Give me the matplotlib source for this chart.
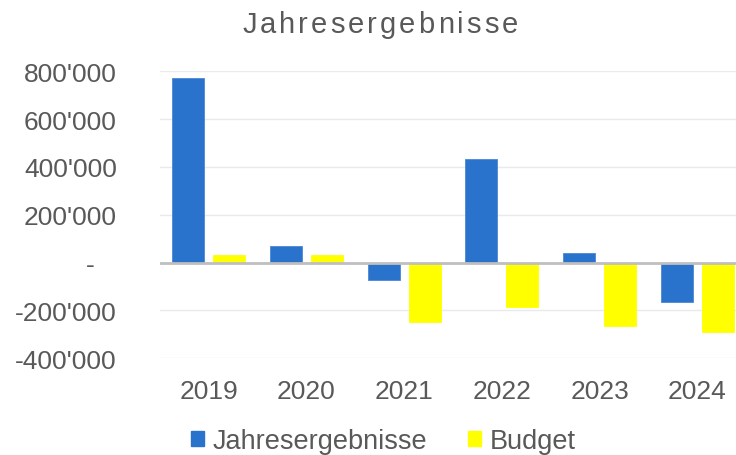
"""Jahresergebnisse vs Budget, 2019-2024 (grouped bars, Excel-style)."""
import numpy as np
import matplotlib
matplotlib.use("Agg")
import matplotlib.pyplot as plt
from matplotlib.patches import Patch
from matplotlib.ticker import FuncFormatter, MultipleLocator

# ---- Data ----
YEARS = ["2019", "2020", "2021", "2022", "2023", "2024"]
RESULTS = [772000, 70000, -74000, 433000, 39000, -163000]
BUDGET = [30000, 30000, -250000, -187000, -266000, -290000]

# ---- Style ----
BLUE = "#2A73CC"
YELLOW = "#FFFF00"
TEXT = "#595959"
GRID = "#EAEAEA"
ZERO = "#BFBFBF"
FONT = "Liberation Sans"
W_PX, H_PX = 736, 456

plt.rcParams["font.family"] = [FONT, "DejaVu Sans"]


def fmt_swiss(v, _pos=None):
    if abs(v) < 1:
        return "-   "
    return f"{int(round(v)):,}".replace(",", "'")


def spaced_title(fig, s, x_center_px, y_baseline, spacing_px, **kw):
    """Draw text char by char with extra letter spacing (Excel title look)."""
    renderer = fig.canvas.get_renderer()
    widths = []
    for ch in s:
        t = fig.text(0, 0, ch, **kw)
        widths.append(t.get_window_extent(renderer).width)
        t.remove()
    total = sum(widths) + spacing_px * (len(s) - 1)
    x = x_center_px - total / 2
    for ch, w in zip(s, widths):
        fig.text(x / W_PX, y_baseline, ch, ha="left", va="baseline", **kw)
        x += w + spacing_px


fig = plt.figure(figsize=(W_PX / 100, H_PX / 100), dpi=100)
ax = fig.add_axes([0.2172, 0.2121, 0.7965, 0.6294])

x = np.arange(len(YEARS))
bw = 0.3275
off = 0.209
ax.bar(x - off, RESULTS, bw, color=BLUE, edgecolor="#4A86D6", linewidth=0.6, zorder=3)
ax.bar(x + off, BUDGET, bw, color=YELLOW, edgecolor=YELLOW, linewidth=0.6, zorder=3)

ax.set_xlim(-0.5, len(YEARS) - 0.5)
ax.set_ylim(-400000, 800000)
ax.yaxis.set_major_locator(MultipleLocator(200000))
ax.yaxis.set_major_formatter(FuncFormatter(fmt_swiss))
ax.set_xticks(x)
ax.set_xticklabels(YEARS)

ax.grid(axis="y", color=GRID, linewidth=1.0, zorder=0)
ax.axhline(0, color=ZERO, linewidth=2.0, zorder=4)
for sp in ax.spines.values():
    sp.set_visible(False)
ax.tick_params(axis="both", length=0, labelsize=19, colors=TEXT)
ax.tick_params(axis="y", pad=31)
ax.tick_params(axis="x", pad=15)

spaced_title(fig, "Jahresergebnisse", 380, 1 - 33 / H_PX, 3.0,
             fontsize=21, color=TEXT)

handles = [Patch(facecolor=BLUE, edgecolor=BLUE, label="Jahresergebnisse"),
           Patch(facecolor=YELLOW, edgecolor=YELLOW, label="Budget")]
fig.legend(handles=handles, loc="center", bbox_to_anchor=(383 / W_PX, 1 - 442 / H_PX),
           ncol=2, frameon=False, fontsize=19.5, labelcolor=TEXT,
           handlelength=0.5, handleheight=0.5, handletextpad=0.3, columnspacing=1.5)

fig.savefig("out.png", dpi=100)
